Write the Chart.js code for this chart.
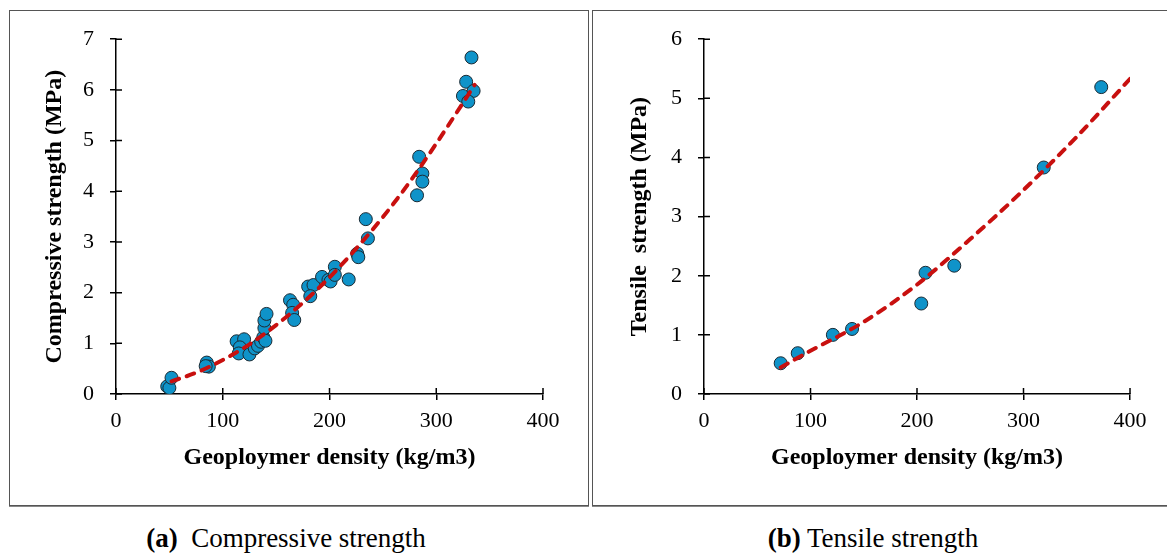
<!DOCTYPE html>
<html>
<head>
<meta charset="utf-8">
<script src="https://cdn.jsdelivr.net/npm/chart.js@4.4.1/dist/chart.umd.min.js"></script>
<style>
body{margin:0;background:#fff;width:1167px;height:553px;overflow:hidden;position:relative;font-family:"Liberation Serif","Times New Roman",serif;}
.box{position:absolute;top:10px;height:494px;border:1px solid #555;box-shadow:0 1px 0 #888;}
#boxA{left:9px;width:578px;}
#boxB{left:592px;width:600px;}
canvas{position:absolute;}
#compChart{left:9px;top:10px;}
#tensChart{left:592px;top:10px;}
.cap{position:absolute;top:523px;font-size:27px;white-space:pre;transform:translateX(-50%);color:#000;}
</style>
</head>
<body>
<div class="box" id="boxA"></div>
<div class="box" id="boxB"></div>
<canvas id="compChart" width="579" height="495" style="width:579px;height:495px"></canvas>
<canvas id="tensChart" width="575" height="495" style="width:575px;height:495px"></canvas>
<div class="cap" style="left:286px"><b>(a)</b>  Compressive strength</div>
<div class="cap" style="left:873px"><b>(b)</b> Tensile strength</div>
<script>
// (a) compressive strength data
const compDensity = [48, 50, 52, 85, 87, 84, 113, 120, 116, 115, 125, 130, 133, 136, 138, 140, 139, 139, 141,
  163, 166, 165, 167, 180, 185, 182, 193, 199, 201, 205, 205, 218, 226, 227, 234, 236,
  284, 287, 287, 282, 328, 325, 335, 330, 333];
const compStrength = [0.15, 0.12, 0.32, 0.62, 0.54, 0.55, 1.04, 1.08, 0.92, 0.8, 0.78, 0.9, 0.95, 1.03, 1.12, 1.05, 1.3, 1.45, 1.58,
  1.85, 1.76, 1.6, 1.46, 2.12, 2.15, 1.93, 2.31, 2.25, 2.22, 2.51, 2.35, 2.26, 2.77, 2.7, 3.45, 3.07,
  4.68, 4.35, 4.19, 3.92, 6.16, 5.88, 5.98, 5.77, 6.64];
const compTrendX = [52, 75, 100, 125, 150, 175, 200, 225, 250, 275, 300, 336];
const compTrendY = [0.25, 0.42, 0.67, 0.98, 1.36, 1.8, 2.3, 2.87, 3.49, 4.18, 4.94, 6.1];
const compYTicks = [0, 1, 2, 3, 4, 5, 6, 7];

// (b) tensile strength data
const tensDensity = [72, 88, 121, 139, 204, 208, 235, 319, 373];
const tensStrength = [0.52, 0.69, 1.0, 1.1, 1.53, 2.05, 2.17, 3.83, 5.19];
const tensTrendX = [72, 100, 150, 200, 250, 300, 350, 400];
const tensTrendY = [0.45, 0.73, 1.22, 1.85, 2.62, 3.45, 4.35, 5.33];
const tensYTicks = [0, 1, 2, 3, 4, 5, 6];

const xTicks = [0, 100, 200, 300, 400];
const xTitle = "Geoploymer density (kg/m3)";

const FONT = "'Liberation Serif', 'Times New Roman', serif";

// short tick marks on the inner side of the axes
const innerTicks = {
  id: "innerTicks",
  afterDatasetsDraw(chart) {
    const ctx = chart.ctx, a = chart.chartArea;
    ctx.save();
    ctx.strokeStyle = "#000";
    ctx.lineWidth = 1.5;
    ctx.beginPath();
    chart.scales.x.ticks.forEach(t => {
      const px = chart.scales.x.getPixelForValue(t.value);
      ctx.moveTo(px, a.bottom);
      ctx.lineTo(px, a.bottom - 6);
    });
    chart.scales.y.ticks.forEach(t => {
      const py = chart.scales.y.getPixelForValue(t.value);
      ctx.moveTo(a.left, py);
      ctx.lineTo(a.left + 6, py);
    });
    ctx.stroke();
    ctx.restore();
  }
};

function makeChart(id, xs, ys, tx, ty, yTicks, yTitle, yWidth, yTitlePad, padRight) {
  const pts = xs.map((x, i) => ({x: x, y: ys[i]}));
  const trend = tx.map((x, i) => ({x: x, y: ty[i]}));
  return new Chart(document.getElementById(id), {
    type: "scatter",
    data: {
      datasets: [{
        type: "line",
        data: trend,
        borderColor: "#c8100f",
        borderWidth: 4,
        borderDash: [8, 8],
        borderCapStyle: "round",
        pointRadius: 0,
        fill: false,
        cubicInterpolationMode: "monotone",
        order: 0
      }, {
        data: pts,
        backgroundColor: "#0f93c9",
        borderColor: "#1b2a33",
        borderWidth: 1,
        pointRadius: 6.5,
        order: 1
      }]
    },
    options: {
      responsive: false,
      animation: false,
      layout: {padding: {top: 29, right: padRight, bottom: 0, left: 0}},
      plugins: {legend: {display: false}, tooltip: {enabled: false}},
      scales: {
        x: {
          type: "linear",
          min: xTicks[0], max: xTicks[xTicks.length - 1],
          afterBuildTicks: s => { s.ticks = xTicks.map(v => ({value: v})); },
          afterFit: s => { s.height = 111; },
          grid: {display: true, drawOnChartArea: false, drawTicks: true, tickLength: 6, color: "#000", lineWidth: 1.5},
          border: {display: true, color: "#000", width: 1.5},
          ticks: {color: "#000", padding: 8, font: {family: FONT, size: 22}},
          title: {display: true, text: xTitle, color: "#000", padding: {top: 0, bottom: 32.6},
                  font: {family: FONT, size: 24, weight: "bold"}}
        },
        y: {
          type: "linear",
          min: yTicks[0], max: yTicks[yTicks.length - 1],
          afterBuildTicks: s => { s.ticks = yTicks.map(v => ({value: v})); },
          afterFit: s => { s.width = yWidth; },
          grid: {display: true, drawOnChartArea: false, drawTicks: true, tickLength: 6, color: "#000", lineWidth: 1.5},
          border: {display: true, color: "#000", width: 1.5},
          ticks: {color: "#000", padding: 16, font: {family: FONT, size: 22}},
          title: {display: true, text: yTitle, color: "#000", padding: {top: yTitlePad, bottom: 0},
                  font: {family: FONT, size: 24, weight: "bold"}}
        }
      }
    },
    plugins: [innerTicks]
  });
}

makeChart("compChart", compDensity, compStrength, compTrendX, compTrendY, compYTicks,
  "Compressive strength (MPa)", 107, 31.6, 45);
makeChart("tensChart", tensDensity, tensStrength, tensTrendX, tensTrendY, tensYTicks,
  "Tensile  strength (MPa)", 112, 33.6, 37);
</script>
</body>
</html>
